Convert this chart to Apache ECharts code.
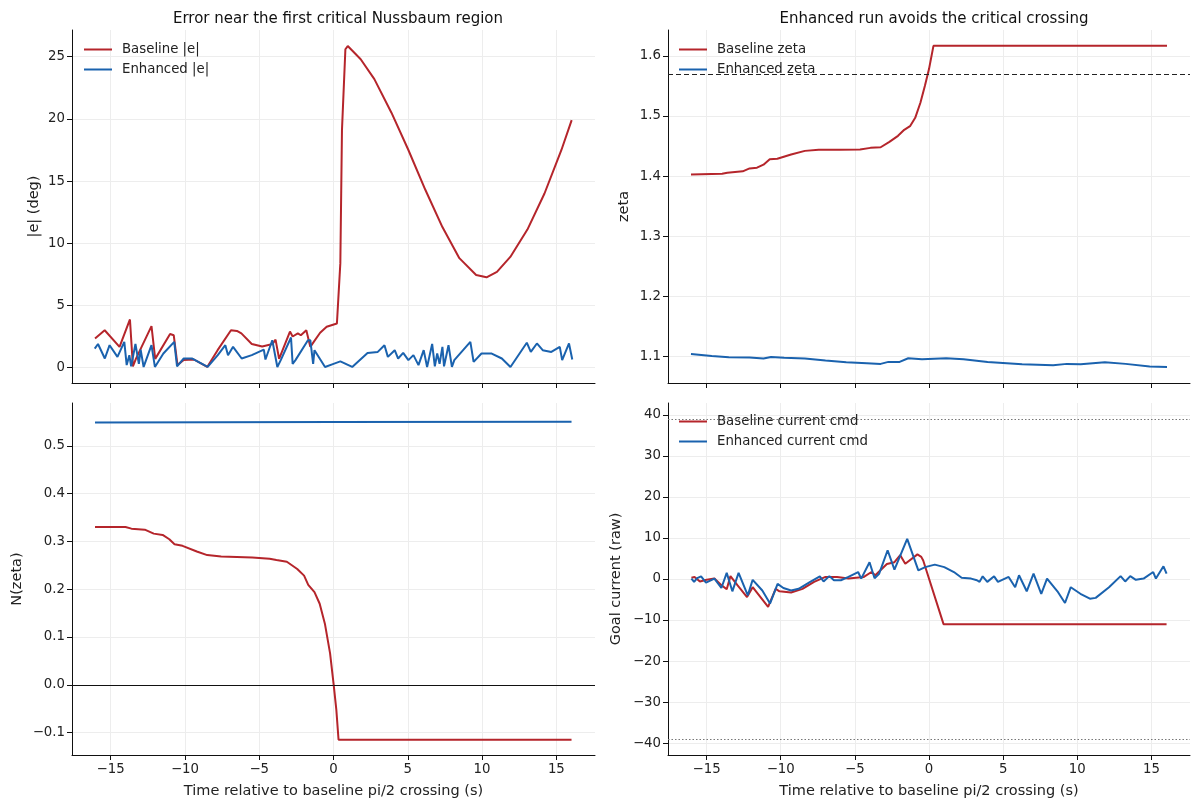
<!DOCTYPE html>
<html><head><meta charset="utf-8">
<script src="https://cdn.jsdelivr.net/npm/echarts@6/dist/echarts.min.js"></script>
<style>html,body{margin:0;padding:0;background:#fff}#c{width:1200px;height:810px}</style>
</head><body><div id="c"></div>
<script>
// ---------- data ----------
const xTickValues = [-15, -10, -5, 0, 5, 10, 15];
const errTicks = [0, 5, 10, 15, 20, 25];
const zetaTicks = [1.1, 1.2, 1.3, 1.4, 1.5, 1.6];
const nTicks = [-0.1, 0.0, 0.1, 0.2, 0.3, 0.4, 0.5];
const curTicks = [-40, -30, -20, -10, 0, 10, 20, 30, 40];

const ZETA_CRIT = Math.PI / 2;
const CURRENT_LIMIT = 39;

const tErrBase = [-16.05,-15.4,-14.4,-13.7,-13.5,-13.3,-12.25,-12.0,-11.0,-10.75,-10.5,-10.1,-9.4,-8.5,-7.8,-6.9,-6.5,-6.2,-5.5,-4.8,-4.1,-3.9,-3.66,-2.93,-2.75,-2.4,-2.2,-1.83,-1.56,-1.33,-0.9,-0.46,0.23,0.46,0.57,0.8,0.96,1.83,2.75,3.9,5.04,6.18,7.33,8.47,9.6,10.3,11.0,11.9,13.05,14.2,15.34,16.03];
const errBase  = [2.34,3.0,1.67,3.87,0.1,0.7,3.33,0.7,2.7,2.6,0.2,0.6,0.65,0.05,1.4,3.0,2.95,2.75,1.9,1.7,1.9,2.25,0.7,2.9,2.5,2.75,2.6,3.0,1.67,2.07,2.8,3.28,3.55,8.4,19.1,25.6,25.86,24.8,23.2,20.5,17.5,14.3,11.3,8.8,7.45,7.26,7.7,8.9,11.1,14.0,17.5,19.9];

const tErrEnh = [-16.07,-15.85,-15.39,-15.07,-14.54,-14.08,-13.92,-13.74,-13.62,-13.33,-13.1,-12.98,-12.78,-12.25,-12.02,-11.45,-10.72,-10.53,-10.08,-9.5,-8.47,-7.79,-7.28,-7.1,-6.76,-6.18,-5.5,-4.69,-4.58,-4.12,-3.78,-3.55,-2.86,-2.75,-2.56,-1.72,-1.56,-1.37,-1.28,-0.57,0,0.46,1.26,2.29,2.98,3.43,3.66,4.12,4.35,4.69,5.04,5.38,5.72,6.07,6.3,6.64,6.82,6.98,7.14,7.33,7.44,7.74,7.97,8.13,9.21,9.43,9.96,10.65,11.33,11.91,13.01,13.28,13.69,14.08,14.66,15.23,15.39,15.85,16.07];
const errEnh  = [1.53,1.9,0.73,1.8,0.86,2.07,0.2,1.0,0.1,1.9,0.3,1.45,0.05,1.8,0.05,1.13,2.07,0.1,0.73,0.73,0.05,1.0,1.8,1.0,1.67,0.73,1.0,1.45,0.65,2.2,0.05,0.6,2.42,0.3,0.6,2.2,2.2,0.3,1.4,0.05,0.3,0.5,0.05,1.18,1.26,1.8,0.86,1.4,0.73,1.18,0.6,1.0,0.2,1.4,0.05,1.9,0.1,1.13,0.3,1.67,0.1,1.8,0.05,0.6,2.07,0.46,1.13,1.13,0.73,0.05,2.0,1.26,1.94,1.4,1.26,1.67,0.6,1.94,0.65];

const tZetaBase = [-16.05,-13.95,-13.6,-12.56,-12.1,-11.6,-11.16,-10.74,-10.23,-9.3,-8.37,-7.44,-6.05,-4.65,-3.95,-3.26,-2.67,-2.09,-1.67,-1.28,-0.93,-0.58,-0.28,0,0.3,16.05];
const zetaBase  = [1.4028,1.404,1.4056,1.408,1.4128,1.414,1.419,1.428,1.429,1.436,1.442,1.444,1.444,1.4444,1.447,1.448,1.457,1.467,1.477,1.483,1.497,1.522,1.55,1.578,1.6167,1.6167];

const tZetaEnh = [-16.05,-14.65,-13.5,-12.1,-11.16,-10.65,-9.77,-8.37,-6.98,-5.58,-4.19,-3.26,-2.74,-1.98,-1.4,-0.47,1.16,2.33,3.95,6.28,8.37,9.3,10.23,11.86,13.26,14.88,16.05];
const zetaEnh  = [1.1044,1.101,1.0989,1.0983,1.0967,1.0994,1.0978,1.0967,1.0933,1.0906,1.0889,1.0878,1.0911,1.0911,1.0972,1.0956,1.0972,1.0956,1.0911,1.0872,1.0856,1.0878,1.0872,1.0906,1.0878,1.0833,1.0828];

const tNBase = [-16.05,-14.0,-13.6,-12.7,-12.1,-11.5,-11.05,-10.7,-10.16,-9.2,-8.5,-7.56,-5.47,-4.3,-3.84,-3.14,-2.44,-1.98,-1.7,-1.28,-0.93,-0.58,-0.23,0,0.19,0.34,16.02];
const nBase  = [0.3303,0.3303,0.3269,0.3248,0.3165,0.3137,0.3047,0.2943,0.2909,0.279,0.2715,0.2687,0.2666,0.2639,0.2611,0.2576,0.2424,0.2285,0.2091,0.1939,0.1697,0.128,0.0658,0.0035,-0.052,-0.115,-0.115];
const tNEnh = [-16.05, 0, 16.02];
const nEnh  = [0.549, 0.5502, 0.5506];

const tCurBase = [-16.02,-15.81,-15.45,-14.99,-14.47,-14.0,-13.64,-13.39,-12.92,-12.27,-11.89,-10.85,-10.34,-10.08,-9.3,-8.53,-7.75,-6.98,-6.2,-5.43,-4.39,-3.88,-3.62,-2.84,-2.33,-1.94,-1.6,-0.78,-0.52,-0.39,0.98,16.02];
const curBase  = [0.3,0.5,-0.6,-0.2,0.1,-1.5,-2.5,0.7,-1.5,-4.4,-2.0,-6.8,-2.4,-3.0,-3.3,-2.4,-0.7,0.5,0.5,0.1,0.5,1.7,0.9,3.65,4.1,5.8,3.7,6.0,5.4,4.5,-11.0,-11.0];

const tCurEnh = [-16.02,-15.84,-15.63,-15.37,-15.04,-14.47,-14.0,-13.64,-13.26,-12.84,-12.22,-11.89,-11.24,-10.72,-10.21,-9.82,-9.3,-8.79,-8.01,-7.36,-7.11,-6.72,-6.41,-5.94,-5.43,-4.78,-4.57,-4.01,-3.67,-3.36,-2.79,-2.33,-1.47,-0.72,-0.26,0.39,1.03,1.68,2.2,2.84,3.23,3.41,3.62,3.93,4.39,4.65,5.37,5.81,6.07,6.59,7.05,7.57,7.96,8.66,9.17,9.56,10.21,10.85,11.24,12.14,12.92,13.23,13.57,13.95,14.47,15.12,15.3,15.81,16.02];
const curEnh  = [0.1,-0.7,0.2,0.65,-0.9,0.1,-2.2,1.5,-3.0,1.5,-4.0,-0.2,-2.8,-6.0,-1.2,-2.2,-2.8,-2.4,-0.7,0.65,-0.6,0.7,-0.3,-0.3,0.5,1.7,0.1,4.1,0.2,1.3,7.0,2.3,9.8,2.1,2.9,3.5,2.9,1.7,0.3,0.1,-0.3,-0.7,0.65,-0.7,0.65,-0.7,0.5,-2.0,0.9,-3.0,1.3,-3.6,0.1,-3.0,-5.85,-2.0,-3.6,-4.8,-4.6,-2.0,0.7,-0.6,0.7,-0.2,0.1,1.7,0.1,3.1,1.3];

// ---------- styling ----------
const RED = '#b5252b';
const BLUE = '#1a62ae';
const FONT = 'DejaVu Sans';
const TICK_FS = 13.3;
const NAME_FS = 14.5;
const zip = (a, b) => a.map((v, i) => [v, b[i]]);
const fmt = (d) => (v) => (v < 0 ? '\u2212' : '') + Math.abs(v).toFixed(d);

const grids = [
  {left: 72, top: 30, width: 523, height: 353},
  {left: 668, top: 30, width: 522, height: 353},
  {left: 72, top: 403, width: 523, height: 352},
  {left: 668, top: 403, width: 522, height: 352}
];

function xAxis(i, showLabels) {
  return {
    type: 'value', gridIndex: i, min: -17.6, max: 17.6,
    axisLine: {show: true, onZero: false, lineStyle: {color: '#111', width: 1}},
    axisTick: {show: true, inside: false, length: 5, lineStyle: {color: '#111'}, customValues: xTickValues},
    axisLabel: {show: showLabels, customValues: xTickValues, formatter: fmt(0), fontFamily: FONT, fontSize: TICK_FS, color: '#222', margin: 8},
    splitLine: {show: true, lineStyle: {color: '#ededed', width: 1}},
    name: showLabels ? 'Time relative to baseline pi/2 crossing (s)' : '',
    nameLocation: 'middle', nameGap: 29,
    nameTextStyle: {fontFamily: FONT, fontSize: NAME_FS, color: '#222'}
  };
}
function yAxis(i, min, max, ticks, dec, name, gap) {
  return {
    type: 'value', gridIndex: i, min: min, max: max,
    axisLine: {show: true, onZero: false, lineStyle: {color: '#111', width: 1}},
    axisTick: {show: true, inside: false, length: 5, lineStyle: {color: '#111'}, customValues: ticks},
    axisLabel: {customValues: ticks, formatter: fmt(dec), fontFamily: FONT, fontSize: TICK_FS, color: '#222', margin: 7},
    splitLine: {show: true, lineStyle: {color: '#ededed', width: 1}},
    name: name, nameLocation: 'middle', nameGap: gap, nameRotate: 90,
    nameTextStyle: {fontFamily: FONT, fontSize: NAME_FS, color: '#222'}
  };
}
function line(name, i, t, v, color, extra) {
  return Object.assign({
    name: name, type: 'line', xAxisIndex: i, yAxisIndex: i,
    data: zip(t, v), showSymbol: false, symbol: 'none',
    lineStyle: {color: color, width: 2}, itemStyle: {color: color},
    animation: false
  }, extra || {});
}
function hline(values, style) {
  return {
    silent: true, symbol: ['none', 'none'], label: {show: false},
    lineStyle: style, data: values.map(v => ({yAxis: v}))
  };
}
function legend(left, top, names) {
  return {
    left: left, top: top, orient: 'vertical', itemGap: 7,
    icon: 'rect', itemWidth: 28, itemHeight: 2,
    textStyle: {fontFamily: FONT, fontSize: 13.3, color: '#222', padding: [0, 0, 0, 5]},
    data: names
  };
}

const option = {
  backgroundColor: '#fff',
  animation: false,
  title: [
    {text: 'Error near the first critical Nussbaum region', left: 333, top: 7, textAlign: 'center',
     textStyle: {fontFamily: FONT, fontSize: 15, fontWeight: 'normal', color: '#111'}},
    {text: 'Enhanced run avoids the critical crossing', left: 929, top: 7, textAlign: 'center',
     textStyle: {fontFamily: FONT, fontSize: 15, fontWeight: 'normal', color: '#111'}}
  ],
  grid: grids,
  legend: [
    legend(79, 38, ['Baseline |e|', 'Enhanced |e|']),
    legend(674, 38, ['Baseline zeta', 'Enhanced zeta']),
    legend(674, 410, ['Baseline current cmd', 'Enhanced current cmd'])
  ],
  xAxis: [xAxis(0, false), xAxis(1, false), xAxis(2, true), xAxis(3, true)],
  yAxis: [
    yAxis(0, -1.24, 27.15, errTicks, 0, '|e| (deg)', 30),
    yAxis(1, 1.056, 1.643, zetaTicks, 1, 'zeta', 36),
    yAxis(2, -0.147, 0.59, nTicks, 1, 'N(zeta)', 47),
    yAxis(3, -42.9, 42.9, curTicks, 0, 'Goal current (raw)', 44)
  ],
  series: [
    line('Baseline |e|', 0, tErrBase, errBase, RED),
    line('Enhanced |e|', 0, tErrEnh, errEnh, BLUE),
    line('Baseline zeta', 1, tZetaBase, zetaBase, RED, {
      markLine: hline([ZETA_CRIT], {color: '#222', width: 1.2, type: [5, 3]})
    }),
    line('Enhanced zeta', 1, tZetaEnh, zetaEnh, BLUE),
    line('Baseline N(zeta)', 2, tNBase, nBase, RED, {
      markLine: hline([0], {color: '#111', width: 1, type: 'solid'})
    }),
    line('Enhanced N(zeta)', 2, tNEnh, nEnh, BLUE),
    line('Baseline current cmd', 3, tCurBase, curBase, RED, {
      markLine: hline([CURRENT_LIMIT, -CURRENT_LIMIT], {color: '#777', width: 1.2, type: [1.5, 2]})
    }),
    line('Enhanced current cmd', 3, tCurEnh, curEnh, BLUE)
  ]
};

const chart = echarts.init(document.getElementById('c'), null, {renderer: 'canvas'});
chart.setOption(option);
</script></body></html>
